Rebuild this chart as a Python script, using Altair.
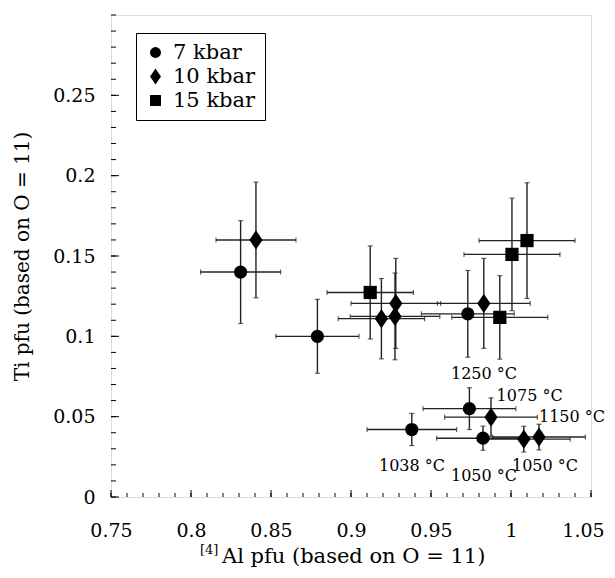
import altair as alt
import pandas as pd

# ---- data ----
series_names = ["7 kbar", "10 kbar", "15 kbar"]

x7 = [0.831, 0.879, 0.973, 0.974, 0.938, 0.9825]
y7 = [0.140, 0.100, 0.114, 0.055, 0.042, 0.0366]
xe7 = [0.025, 0.026, 0.029, 0.029, 0.028, 0.029]
ye7 = [0.032, 0.023, 0.027, 0.013, 0.010, 0.0075]

x10 = [0.8406, 0.919, 0.928, 0.9275, 0.983, 0.9875, 1.008, 1.0175]
y10 = [0.160, 0.111, 0.1205, 0.1124, 0.1205, 0.0497, 0.036, 0.0373]
xe10 = [0.025, 0.027, 0.028, 0.028, 0.029, 0.029, 0.029, 0.029]
ye10 = [0.036, 0.025, 0.028, 0.027, 0.028, 0.012, 0.008, 0.008]

x15 = [0.912, 1.0006, 1.010, 0.993]
y15 = [0.1273, 0.151, 0.1596, 0.1118]
xe15 = [0.027, 0.030, 0.030, 0.030]
ye15 = [0.029, 0.035, 0.036, 0.026]

label_text = ["1250 \u00b0C", "1075 \u00b0C", "1150 \u00b0C", "1038 \u00b0C", "1050 \u00b0C", "1050 \u00b0C"]
label_x = [0.9625, 0.991, 1.0175, 0.9175, 0.9625, 1.0006]
label_y = [0.0733, 0.0596, 0.0466, 0.0161, 0.0099, 0.0161]

x_major = [0.75, 0.8, 0.85, 0.9, 0.95, 1.0, 1.05]
x_minor = [round(0.75 + 0.01 * i, 2) for i in range(31)]
y_major = [0.0, 0.05, 0.1, 0.15, 0.2, 0.25]
y_minor = [round(0.01 * i, 2) for i in range(31)]

W, H = 480, 482
FONT = "DejaVu Serif"

rows = []
for name, xs, ys, xes, yes in [
    ("7 kbar", x7, y7, xe7, ye7),
    ("10 kbar", x10, y10, xe10, ye10),
    ("15 kbar", x15, y15, xe15, ye15),
]:
    for a, b, c, d in zip(xs, ys, xes, yes):
        rows.append({"series": name, "x": a, "y": b, "xlo": a - c, "xhi": a + c, "ylo": b - d, "yhi": b + d})
df = pd.DataFrame(rows)

xscale = alt.Scale(domain=[0.75, 1.05], nice=False, zero=False)
yscale = alt.Scale(domain=[0, 0.3], nice=False, zero=False)

diamond = "M0,-1.45L1,0L0,1.45L-1,0Z"

base = alt.Chart(df)
ec = "#222"

hbar = base.mark_rule(color=ec, strokeWidth=1.4).encode(
    x=alt.X("xlo:Q", scale=xscale), x2="xhi:Q", y=alt.Y("y:Q", scale=yscale))
vbar = base.mark_rule(color=ec, strokeWidth=1.4).encode(
    x=alt.X("x:Q", scale=xscale), y=alt.Y("ylo:Q", scale=yscale), y2="yhi:Q")
capL = base.mark_tick(orient="vertical", size=5, thickness=1.2, color=ec).encode(
    x=alt.X("xlo:Q", scale=xscale), y=alt.Y("y:Q", scale=yscale))
capR = base.mark_tick(orient="vertical", size=5, thickness=1.2, color=ec).encode(
    x=alt.X("xhi:Q", scale=xscale), y=alt.Y("y:Q", scale=yscale))
capB = base.mark_tick(orient="horizontal", size=5, thickness=1.2, color=ec).encode(
    x=alt.X("x:Q", scale=xscale), y=alt.Y("ylo:Q", scale=yscale))
capT = base.mark_tick(orient="horizontal", size=5, thickness=1.2, color=ec).encode(
    x=alt.X("x:Q", scale=xscale), y=alt.Y("yhi:Q", scale=yscale))

points = base.mark_point(filled=True, opacity=1, color="black", strokeWidth=0).encode(
    x=alt.X("x:Q", scale=xscale,
            axis=alt.Axis(values=x_major, format="~g", title=None, ticks=False, domain=False,
                          grid=False, labelPadding=24, labelFontSize=19, labelFont=FONT,
                          labelColor="black", labelFlush=False,
                          labelOffset={"condition": {"test": "datum.value >= 1.049", "value": -8},
                                       "value": 0})),
    y=alt.Y("y:Q", scale=yscale,
            axis=alt.Axis(values=y_major, format="~g", title="Ti pfu  (based on O = 11)",
                          ticks=False, domain=False, grid=False, labelPadding=16,
                          labelFontSize=19, labelFont=FONT, labelColor="black",
                          labelFlush=False, titleFont=FONT, titleFontSize=20,
                          titleFontWeight="normal", titleColor="black",
                          titleX=-89, titleY=H / 2, titleAlign="center", titleBaseline="middle")),
    shape=alt.Shape("series:N",
                    scale=alt.Scale(domain=series_names, range=["circle", diamond, "square"]),
                    legend=alt.Legend(title=None, orient="none", legendX=25, legendY=18,
                                      strokeColor="black", padding=9, labelFont=FONT,
                                      labelFontSize=21, labelColor="black", symbolSize=120,
                                      symbolFillColor="black", symbolStrokeWidth=0,
                                      rowPadding=2, labelOffset=7, fillColor="white")),
    size=alt.value(175),
)

labels_df = pd.DataFrame({"t": label_text, "x": label_x, "y": label_y})
labels = alt.Chart(labels_df).mark_text(align="left", baseline="alphabetic", font=FONT,
                                        fontSize=16, color="black").encode(
    x=alt.X("x:Q", scale=xscale), y=alt.Y("y:Q", scale=yscale), text="t:N")

# inward axis ticks
xmin_df = pd.DataFrame({"v": x_minor})
xmaj_df = pd.DataFrame({"v": x_major})
ymin_df = pd.DataFrame({"v": y_minor})
ymaj_df = pd.DataFrame({"v": y_major})
tk = dict(color="black", strokeWidth=1)
xt_min = alt.Chart(xmin_df).mark_rule(**tk).encode(
    x=alt.X("v:Q", scale=xscale), y=alt.value(H), y2=alt.value(H - 4))
xt_maj = alt.Chart(xmaj_df).mark_rule(**tk).encode(
    x=alt.X("v:Q", scale=xscale), y=alt.value(H), y2=alt.value(H - 7))
yt_min = alt.Chart(ymin_df).mark_rule(**tk).encode(
    y=alt.Y("v:Q", scale=yscale), x=alt.value(0), x2=alt.value(5))
yt_maj = alt.Chart(ymaj_df).mark_rule(**tk).encode(
    y=alt.Y("v:Q", scale=yscale), x=alt.value(0), x2=alt.value(8))

title_df = pd.DataFrame({"sup": ["[4]"], "main": ["Al pfu  (based on O = 11)"]})
xt_sup = alt.Chart(title_df).mark_text(align="left", baseline="alphabetic", font=FONT,
                                        fontSize=13, color="black").encode(
    text="sup:N", x=alt.value(89), y=alt.value(539))
xt_main = alt.Chart(title_df).mark_text(align="left", baseline="alphabetic", font=FONT,
                                         fontSize=21, color="black").encode(
    text="main:N", x=alt.value(111), y=alt.value(548))

chart = alt.layer(
    hbar, vbar, capL, capR, capB, capT, xt_min, xt_maj, yt_min, yt_maj,
    points, labels, xt_sup, xt_main
).properties(
    width=W, height=H,
    autosize=alt.AutoSizeParams(type="none"),
    padding={"left": 103, "top": 7, "right": 16, "bottom": 73},
).configure_view(
    stroke="black", strokeWidth=1.8
).configure(background="white")

chart.save("out.html", embed_options={"renderer": "svg", "actions": False})
